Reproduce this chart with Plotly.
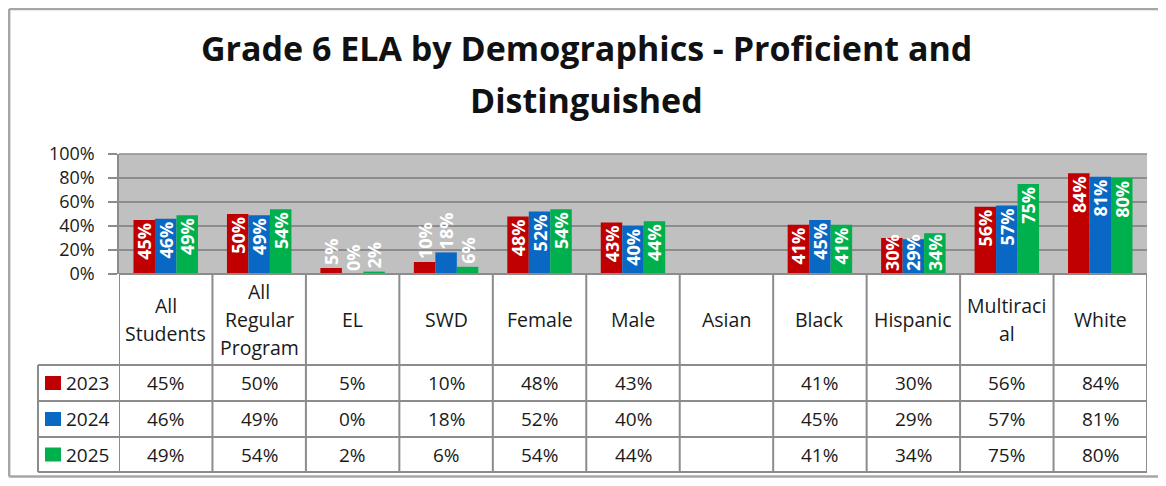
import plotly.graph_objects as go

categories = ["All Students", "All Regular Program", "EL", "SWD", "Female", "Male",
              "Asian", "Black", "Hispanic", "Multiracial", "White"]
header_labels = ["All<br>Students", "All<br>Regular<br>Program", "EL", "SWD", "Female",
                 "Male", "Asian", "Black", "Hispanic", "Multiraci<br>al", "White"]
years = ["2023", "2024", "2025"]
vals_2023 = [45, 50, 5, 10, 48, 43, None, 41, 30, 56, 84]
vals_2024 = [46, 49, 0, 18, 52, 40, None, 45, 29, 57, 81]
vals_2025 = [49, 54, 2, 6, 54, 44, None, 41, 34, 75, 80]
y_ticks = [0, 20, 40, 60, 80, 100]
series = [vals_2023, vals_2024, vals_2025]
colors = ["#C00000", "#0868C4", "#00B04C"]

OFF = 8  # page body margin
W, H = 1166 - 2 * OFF, 486 - 2 * OFF
FONT = "Open Sans"
GRID = "#8C8C8C"
TXT = "#1a1a1a"
LBL = dict(family=FONT, size=18, color="white", weight="bold")


def py(p):
    return 1 - (p - OFF) / H


def px(p):
    return (p - OFF) / W


x_left, x_right = 119, 1147
y_top, y_bot = 154, 274

fig = go.Figure()
for yr, vals, col in zip(years, series, colors):
    # medium bars (label anchored at the base), all others in the main trace
    mid = [v if (v is not None and 20 <= v < 40) else None for v in vals]
    main = [None if (v is not None and 20 <= v < 40) else v for v in vals]
    txt = [f"{v}%" if v is not None else "" for v in main]
    pos = ["outside" if (v is not None and v < 20) else "inside" for v in main]
    fig.add_trace(go.Bar(
        x=categories, y=main, name=yr, offsetgroup=yr,
        marker=dict(color=col, line=dict(width=0)),
        text=txt, textposition=pos, textangle=-90, insidetextanchor="end",
        textfont=LBL, cliponaxis=False,
    ))
    fig.add_trace(go.Bar(
        x=categories, y=mid, name=yr, offsetgroup=yr,
        marker=dict(color=col, line=dict(width=0)),
        text=[f"{v}%" if v is not None else "" for v in mid], textposition="inside",
        textangle=-90, insidetextanchor="start", textfont=LBL, cliponaxis=False,
    ))

fig.update_layout(
    width=W, height=H, margin=dict(l=0, r=0, t=0, b=0, autoexpand=False),
    paper_bgcolor="white", plot_bgcolor="#C0C0C0",
    barmode="group", bargap=0.31, bargroupgap=0,
    showlegend=False, autosize=False,
    uniformtext=dict(minsize=18, mode="show"),
    font=dict(family=FONT, color=TXT),
)
fig.update_xaxes(domain=[px(x_left), px(x_right)], showticklabels=False, showgrid=False,
                 zeroline=False, showline=False, ticks="", automargin=False,
                 categoryorder="array", categoryarray=categories,
                 range=[-0.5, len(categories) - 0.5])
fig.update_yaxes(domain=[py(y_bot), py(y_top)], range=[0, 100], tickvals=y_ticks,
                 ticktext=[f"{t}%" for t in y_ticks], showgrid=True, gridcolor=GRID,
                 gridwidth=1.5, zeroline=False, showline=True, linecolor=GRID, linewidth=1.5,
                 ticks="outside", ticklen=9, tickcolor=GRID, tickwidth=1.5,
                 ticklabelstandoff=10, automargin=False,
                 tickfont=dict(family=FONT, size=18, color=TXT))

shapes = []
ann = []
BORDER = dict(color="#A6A6A6", width=2.5)
# outer border: top, left, bottom (right side runs off the picture)
shapes.append(dict(type="line", xref="paper", yref="paper", x0=0.001, x1=1.0,
                   y0=0.998, y1=0.998, line=BORDER))
shapes.append(dict(type="line", xref="paper", yref="paper", x0=0.001, x1=0.001,
                   y0=0.003, y1=0.998, line=BORDER))
shapes.append(dict(type="line", xref="paper", yref="paper", x0=0.001, x1=1.0,
                   y0=0.003, y1=0.003, line=BORDER))
# top gridline at 100% (frame)
shapes.append(dict(type="line", xref="paper", yref="paper", x0=px(x_left), x1=px(x_right),
                   y0=py(y_top), y1=py(y_top), line=dict(color=GRID, width=1.5)))

header_bot = 365
row_edges = [365, 401, 437, 472]
legend_left = 38

n = len(categories)
for i in range(n + 1):
    shapes.append(dict(type="line", xref="x", yref="paper", x0=i - 0.5, x1=i - 0.5,
                       y0=py(y_bot), y1=py(row_edges[-1]), line=dict(color=GRID, width=2)))
shapes.append(dict(type="line", xref="paper", yref="paper", x0=px(legend_left), x1=px(legend_left),
                   y0=py(header_bot), y1=py(row_edges[-1]), line=dict(color=GRID, width=2)))
shapes.append(dict(type="line", xref="paper", yref="paper", x0=px(x_left), x1=px(x_right),
                   y0=py(y_bot), y1=py(y_bot), line=dict(color=GRID, width=2)))
for r in row_edges:
    shapes.append(dict(type="line", xref="paper", yref="paper", x0=px(legend_left), x1=px(x_right),
                       y0=py(r), y1=py(r), line=dict(color=GRID, width=2)))

# header labels
hc = (y_bot + header_bot) / 2
for cat, lab in zip(categories, header_labels):
    lines = lab.split("<br>")
    k = len(lines)
    for j, ln in enumerate(lines):
        yc = hc + (j - (k - 1) / 2) * 28
        ann.append(dict(x=cat, xref="x", y=py(yc), yref="paper", text=ln, showarrow=False,
                        font=dict(family=FONT, size=19.5, color=TXT),
                        xanchor="center", yanchor="middle"))

# value rows + legend keys
for ri, (yr, vals, col) in enumerate(zip(years, series, colors)):
    yc = (row_edges[ri] + row_edges[ri + 1]) / 2
    for cat, v in zip(categories, vals):
        if v is None:
            continue
        ann.append(dict(x=cat, xref="x", y=py(yc), yref="paper", text=f"{v}%", showarrow=False,
                        font=dict(family=FONT, size=19, color=TXT),
                        xanchor="center", yanchor="middle"))
    shapes.append(dict(type="rect", xref="paper", yref="paper", x0=px(45), x1=px(61),
                       y0=py(yc + 7), y1=py(yc - 7), fillcolor=col, line=dict(width=0)))
    ann.append(dict(x=px(64), xref="paper", y=py(yc), yref="paper", text=yr, showarrow=False,
                    font=dict(family=FONT, size=19, color=TXT),
                    xanchor="left", yanchor="middle"))

# title
ann.append(dict(x=px(586), xref="paper", y=py(48), yref="paper",
                text="<b>Grade 6 ELA by Demographics - Proficient and</b>", showarrow=False,
                font=dict(family=FONT, size=34, color="#111"), xanchor="center", yanchor="middle"))
ann.append(dict(x=px(586), xref="paper", y=py(100), yref="paper",
                text="<b>Distinguished</b>", showarrow=False,
                font=dict(family=FONT, size=34, color="#111"), xanchor="center", yanchor="middle"))

fig.update_layout(shapes=shapes, annotations=ann)
fig.write_html("out.html")
